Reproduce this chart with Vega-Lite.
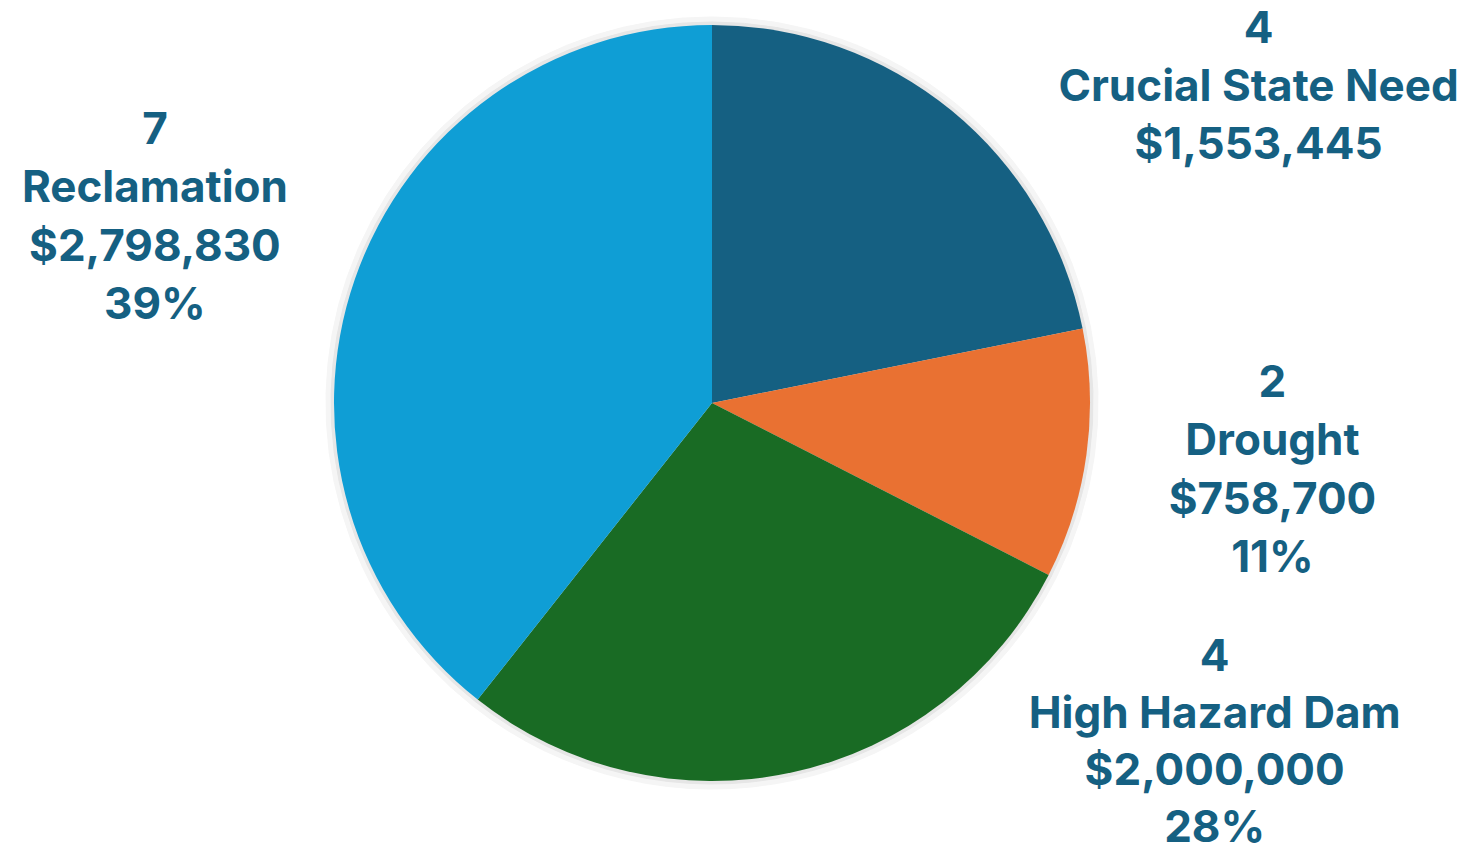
{
  "$schema": "https://vega.github.io/schema/vega-lite/v6.json",
  "width": 1424,
  "height": 806,
  "autosize": {"type": "none"},
  "padding": {"left": 0, "top": 0, "right": 46, "bottom": 51},
  "background": "white",
  "view": {"stroke": null},
  "data": {
    "values": [
      {"category": "Crucial State Need", "projects": 4, "amount": 1553445},
      {"category": "Drought", "projects": 2, "amount": 758700},
      {"category": "High Hazard Dam", "projects": 4, "amount": 2000000},
      {"category": "Reclamation", "projects": 7, "amount": 2798830}
    ]
  },
  "transform": [
    {"joinaggregate": [{"op": "sum", "field": "amount", "as": "total"}]},
    {"calculate": "[''+datum.projects, datum.category, format(datum.amount, '$,')]", "as": "label3"},
    {"calculate": "[''+datum.projects, datum.category, format(datum.amount, '$,'), format(datum.amount/datum.total, '.0%')]", "as": "label4"}
  ],
  "encoding": {
    "theta": {"field": "amount", "type": "quantitative", "stack": true},
    "order": {"field": "category", "sort": "ascending"}
  },
  "layer": [
    {
      "mark": {"type": "arc", "radius": 386, "color": "#f5f5f5", "stroke": "#f5f5f5", "strokeWidth": 1},
      "encoding": {"detail": {"field": "category"}}
    },
    {
      "mark": {"type": "arc", "radius": 381, "color": "#e6e6e6", "stroke": "#e6e6e6", "strokeWidth": 1},
      "encoding": {"detail": {"field": "category"}}
    },
    {
      "mark": {"type": "arc", "radius": 378},
      "encoding": {
        "color": {
          "field": "category",
          "type": "nominal",
          "scale": {
            "domain": ["Crucial State Need", "Drought", "High Hazard Dam", "Reclamation"],
            "range": ["#156082", "#E97132", "#196B24", "#0F9ED5"]
          },
          "legend": null
        }
      }
    },
    {
      "mark": {"type": "text", "radius": 378, "dx": 307, "dy": -81, "font": "Inter", "fontWeight": "bold", "fontSize": 44, "lineHeight": 58, "color": "#156082", "align": "center", "baseline": "middle"},
      "encoding": {
        "detail": {"field": "category"},
        "text": {"condition": {"test": "datum.category === 'Crucial State Need'", "field": "label3"}, "value": ""}
      }
    },
    {
      "mark": {"type": "text", "radius": 378, "dx": 186, "dy": -71, "font": "Inter", "fontWeight": "bold", "fontSize": 44, "lineHeight": 58.5, "color": "#156082", "align": "center", "baseline": "middle"},
      "encoding": {
        "detail": {"field": "category"},
        "text": {"condition": {"test": "datum.category === 'Drought'", "field": "label4"}, "value": ""}
      }
    },
    {
      "mark": {"type": "text", "radius": 378, "dx": 422, "dy": -114, "font": "Inter", "fontWeight": "bold", "fontSize": 44, "lineHeight": 57, "color": "#156082", "align": "center", "baseline": "middle"},
      "encoding": {
        "detail": {"field": "category"},
        "text": {"condition": {"test": "datum.category === 'High Hazard Dam'", "field": "label4"}, "value": ""}
      }
    },
    {
      "mark": {"type": "text", "radius": 378, "dx": -200, "dy": -148, "font": "Inter", "fontWeight": "bold", "fontSize": 44, "lineHeight": 58.5, "color": "#156082", "align": "center", "baseline": "middle"},
      "encoding": {
        "detail": {"field": "category"},
        "text": {"condition": {"test": "datum.category === 'Reclamation'", "field": "label4"}, "value": ""}
      }
    }
  ]
}
